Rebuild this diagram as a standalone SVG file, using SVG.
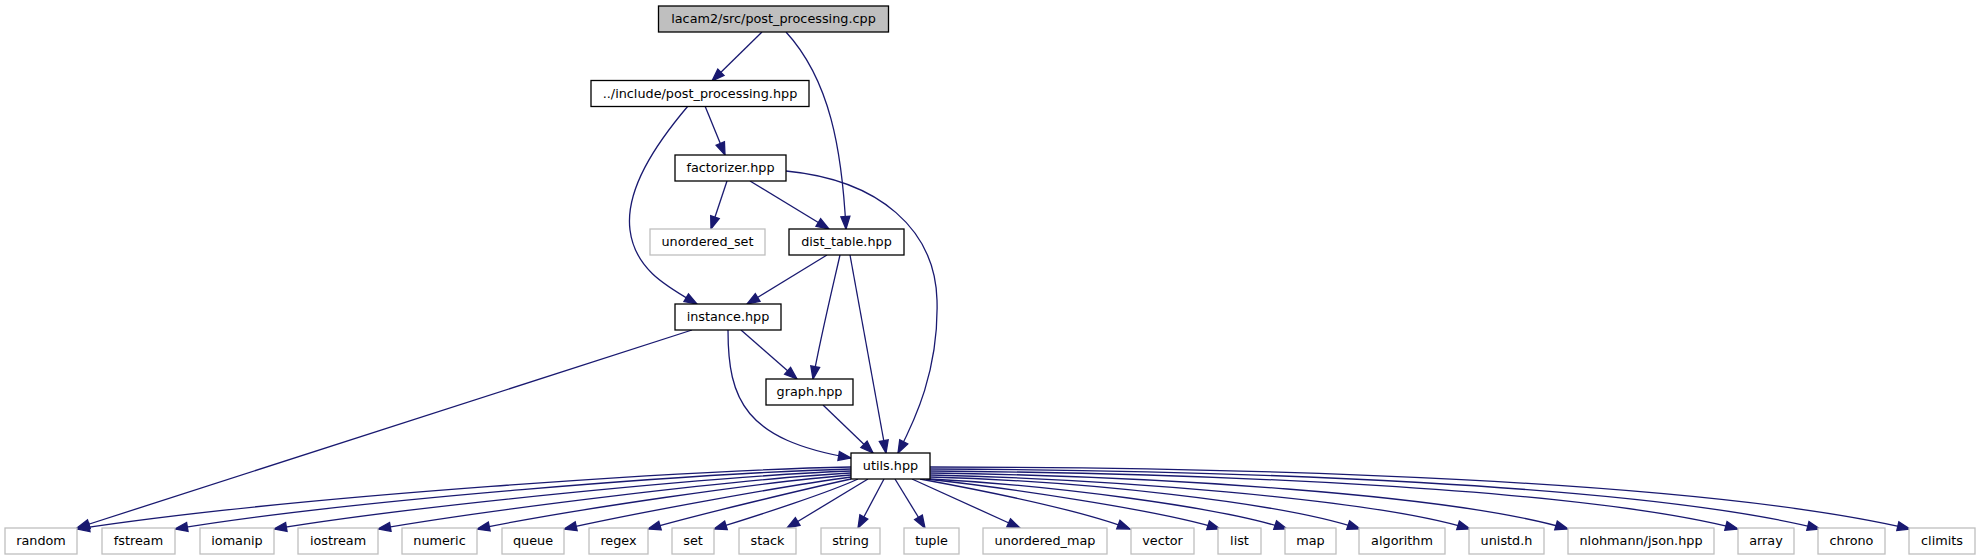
<svg xmlns="http://www.w3.org/2000/svg" width="1981" height="560" viewBox="0 0 1981 560">
<defs>
<style>
.n rect{fill:#fff;stroke:#000;stroke-width:1.3}
.n.root rect{fill:#bfbfbf}
.n.ext rect{stroke:#bfbfbf}
.n text{font-family:"DejaVu Sans",sans-serif;font-size:12.8px;text-anchor:middle;fill:#000}
.e path{fill:none;stroke:#191970;stroke-width:1.3;marker-end:url(#ah)}
</style>
<marker id="ah" markerUnits="userSpaceOnUse" markerWidth="16" markerHeight="12" refX="12.5" refY="4.5" orient="auto" overflow="visible">
<path d="M0,0 L12.5,4.5 L0,9 z" fill="#191970" stroke="#191970" stroke-width="1.3"/>
</marker>
</defs>
<rect width="1981" height="560" fill="#fff"/>
<g id="edges" class="e">
<path d="M762,32 L712,81"/>
<path d="M786,32 C830,80 842,150 846,229"/>
<path d="M705,106 L725,155"/>
<path d="M688,106 C655,145 625,190 630,230 C635,270 668,287 697,304"/>
<path d="M727,181 L711,229"/>
<path d="M750,181 L829,229"/>
<path d="M786,171 C880,180 935,230 937,300 C939,370 915,420 898,453"/>
<path d="M827,255 L747,304"/>
<path d="M840,255 C832,290 820,340 813,379"/>
<path d="M850,255 L886,453"/>
<path d="M741,330 L797,379"/>
<path d="M728,330 C728,400 745,440 851,458"/>
<path d="M692,330 L77,528"/>
<path d="M823,405 L873,453"/>
<path d="M851,467 C700,470 300,495 77,529"/>
<path d="M851,469 C700,473 350,500 175,529"/>
<path d="M851,471 C720,476 420,505 274,529"/>
<path d="M851,473 C740,479 500,508 378,529"/>
<path d="M851,475 C760,482 570,510 477,529"/>
<path d="M851,477 C790,485 640,512 564,529"/>
<path d="M851,479 C810,488 700,514 648,529"/>
<path d="M858,479 C830,492 760,515 714,529"/>
<path d="M868,479 L787,528"/>
<path d="M884,479 L858,528"/>
<path d="M895,479 L925,528"/>
<path d="M912,479 L1020,528"/>
<path d="M920,479 C980,490 1080,510 1130,529"/>
<path d="M926,479 C1000,487 1160,510 1220,529"/>
<path d="M930,479 C1050,485 1220,507 1287,529"/>
<path d="M930,477 C1080,481 1280,502 1360,529"/>
<path d="M930,475 C1100,479 1370,498 1470,529"/>
<path d="M930,473 C1150,476 1450,494 1568,529"/>
<path d="M930,471 C1200,473 1580,488 1738,529"/>
<path d="M930,469 C1230,470 1640,484 1820,529"/>
<path d="M930,467 C1250,467 1700,480 1910,529"/>
</g>
<g id="n_cpp" class="n root"><rect x="658.5" y="6" width="230" height="26"/><text x="773.5" y="23">lacam2/src/post_processing.cpp</text></g>
<g id="n_pphpp" class="n"><rect x="591" y="80.5" width="218" height="26"/><text x="700" y="97.5">../include/post_processing.hpp</text></g>
<g id="n_factorizer" class="n"><rect x="675" y="155" width="111" height="26"/><text x="730.5" y="172">factorizer.hpp</text></g>
<g id="n_unordered_set" class="n ext"><rect x="650" y="229" width="115" height="26"/><text x="707.5" y="246">unordered_set</text></g>
<g id="n_dist_table" class="n"><rect x="789" y="229" width="115" height="26"/><text x="846.5" y="246">dist_table.hpp</text></g>
<g id="n_instance" class="n"><rect x="675" y="304" width="106" height="26"/><text x="728" y="321">instance.hpp</text></g>
<g id="n_graph" class="n"><rect x="766" y="379" width="87" height="26"/><text x="809.5" y="396">graph.hpp</text></g>
<g id="n_utils" class="n"><rect x="851" y="453" width="79" height="26"/><text x="890.5" y="470">utils.hpp</text></g>
<g id="n_random" class="n ext"><rect x="5" y="528" width="72" height="26"/><text x="41" y="545">random</text></g>
<g id="n_fstream" class="n ext"><rect x="102" y="528" width="73" height="26"/><text x="138.5" y="545">fstream</text></g>
<g id="n_iomanip" class="n ext"><rect x="200" y="528" width="74" height="26"/><text x="237" y="545">iomanip</text></g>
<g id="n_iostream" class="n ext"><rect x="298" y="528" width="80" height="26"/><text x="338" y="545">iostream</text></g>
<g id="n_numeric" class="n ext"><rect x="402" y="528" width="75" height="26"/><text x="439.5" y="545">numeric</text></g>
<g id="n_queue" class="n ext"><rect x="502" y="528" width="62" height="26"/><text x="533" y="545">queue</text></g>
<g id="n_regex" class="n ext"><rect x="589" y="528" width="59" height="26"/><text x="618.5" y="545">regex</text></g>
<g id="n_set" class="n ext"><rect x="672" y="528" width="42" height="26"/><text x="693" y="545">set</text></g>
<g id="n_stack" class="n ext"><rect x="739" y="528" width="57" height="26"/><text x="767.5" y="545">stack</text></g>
<g id="n_string" class="n ext"><rect x="821" y="528" width="59" height="26"/><text x="850.5" y="545">string</text></g>
<g id="n_tuple" class="n ext"><rect x="904" y="528" width="55" height="26"/><text x="931.5" y="545">tuple</text></g>
<g id="n_unordered_map" class="n ext"><rect x="983" y="528" width="124" height="26"/><text x="1045" y="545">unordered_map</text></g>
<g id="n_vector" class="n ext"><rect x="1131" y="528" width="63" height="26"/><text x="1162.5" y="545">vector</text></g>
<g id="n_list" class="n ext"><rect x="1218" y="528" width="43" height="26"/><text x="1239.5" y="545">list</text></g>
<g id="n_map" class="n ext"><rect x="1285" y="528" width="51" height="26"/><text x="1310.5" y="545">map</text></g>
<g id="n_algorithm" class="n ext"><rect x="1359" y="528" width="86" height="26"/><text x="1402" y="545">algorithm</text></g>
<g id="n_unistd" class="n ext"><rect x="1469" y="528" width="75" height="26"/><text x="1506.5" y="545">unistd.h</text></g>
<g id="n_json" class="n ext"><rect x="1568" y="528" width="146" height="26"/><text x="1641" y="545">nlohmann/json.hpp</text></g>
<g id="n_array" class="n ext"><rect x="1738" y="528" width="56" height="26"/><text x="1766" y="545">array</text></g>
<g id="n_chrono" class="n ext"><rect x="1818" y="528" width="67" height="26"/><text x="1851.5" y="545">chrono</text></g>
<g id="n_climits" class="n ext"><rect x="1909" y="528" width="66" height="26"/><text x="1942" y="545">climits</text></g>
</svg>
